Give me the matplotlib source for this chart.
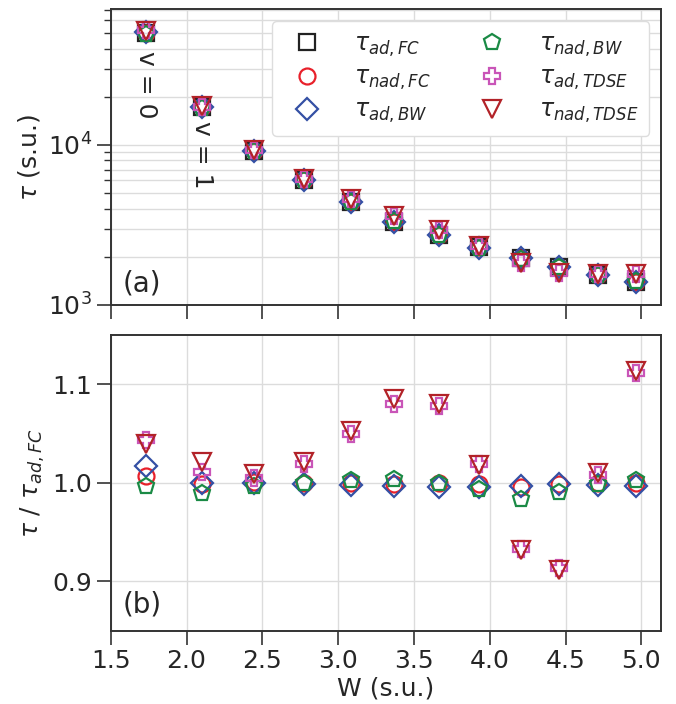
import numpy as np
import matplotlib.pyplot as plt

# well depth W and reference lifetime tau_ad,FC
W = [1.733, 2.103, 2.445, 2.775, 3.083, 3.37, 3.662, 3.93, 4.206, 4.459, 4.712, 4.966]
tau_ad_FC = [49900, 17200, 9210, 6040, 4385, 3320, 2740, 2296, 1960, 1738, 1540, 1400]

# ratios tau / tau_ad,FC
r_nad_FC = [1.007, 0.999, 1.001, 1.000, 1.000, 0.999, 1.000, 0.999, 0.996, 0.999, 1.000, 1.000]
r_ad_BW = [1.017, 1.000, 1.000, 0.999, 0.998, 0.997, 0.996, 0.996, 0.997, 0.999, 0.998, 0.997]
r_nad_BW = [0.997, 0.990, 0.997, 1.000, 1.003, 1.004, 1.000, 0.994, 0.984, 0.991, 0.999, 1.003]
r_ad_TDSE = [1.043, 1.011, 1.005, 1.019, 1.050, 1.080, 1.078, 1.019, 0.933, 0.914, 1.008, 1.111]
r_nad_TDSE = [1.039, 1.021, 1.009, 1.021, 1.053, 1.085, 1.080, 1.018, 0.932, 0.912, 1.010, 1.114]

labels = [r'$\tau_{ad,FC}$', r'$\tau_{nad,FC}$', r'$\tau_{ad,BW}$',
          r'$\tau_{nad,BW}$', r'$\tau_{ad,TDSE}$', r'$\tau_{nad,TDSE}$']
markers = ['s', 'o', 'D', 'p', 'P', 'v']
colors = ['#222222', '#e8202a', '#3450a4', '#1a8a45', '#c955b8', '#b22228']
sizes = [11.5, 11.5, 11.5, 12, 12, 12.5]

ratios = [np.ones(len(W)), np.array(r_nad_FC), np.array(r_ad_BW),
          np.array(r_nad_BW), np.array(r_ad_TDSE), np.array(r_nad_TDSE)]
taus = [np.array(tau_ad_FC) * r for r in ratios]

plt.rcParams['font.size'] = 18
plt.rcParams['text.color'] = '#262626'
plt.rcParams['axes.labelcolor'] = '#262626'
plt.rcParams['xtick.labelcolor'] = '#262626'
plt.rcParams['ytick.labelcolor'] = '#262626'
plt.rcParams['axes.edgecolor'] = '#333333'
plt.rcParams['axes.linewidth'] = 1.4

fig = plt.figure(figsize=(6.76, 7.04), dpi=100)
ax1 = fig.add_axes([0.1638, 0.5668, 0.8142, 0.42])
ax2 = fig.add_axes([0.1638, 0.1041, 0.8142, 0.42])

for i in range(6):
    kw = dict(ls='none', marker=markers[i], ms=sizes[i], mfc='none',
              mec=colors[i], mew=1.6, label=labels[i])
    ax1.plot(W, taus[i], **kw)
    if i > 0:
        ax2.plot(W, ratios[i], **kw)

ax1.set_yscale('log')
ax1.set_ylim(1000, 7.05e4)
ax2.set_ylim(0.85, 1.15)
for ax in (ax1, ax2):
    ax.set_xlim(1.5, 5.13)
    ax.set_xticks(np.arange(1.5, 5.01, 0.5))
    ax.grid(True, which='major', color='#dcdcdc', lw=1)
    ax.tick_params(which='major', direction='out', length=10, width=1.2,
                   color='#333333', labelsize=18)
    ax.tick_params(which='minor', direction='out', length=5, width=1.0,
                   color='#333333')
    ax.set_axisbelow(True)
ax1.grid(True, which='minor', axis='y', color='#dcdcdc', lw=1)
ax1.tick_params(axis='x', labelbottom=False)
ax2.set_yticks([0.9, 1.0, 1.1])

ax1.set_ylabel(r'$\tau$ (s.u.)', fontsize=18)
ax2.set_ylabel(r'$\tau$ / $\tau_{ad,FC}$', fontsize=18)
ax2.set_xlabel('W (s.u.)', fontsize=18, labelpad=2)
fig.align_ylabels([ax1, ax2])

ax1.text(W[0], 2.37e4, 'v = 0', rotation=-90, ha='center', va='center', fontsize=18)
ax1.text(W[1], 8.66e3, 'v = 1', rotation=-90, ha='center', va='center', fontsize=18)
ax1.text(0.022, 0.045, '(a)', transform=ax1.transAxes, fontsize=20, va='baseline')
ax2.text(0.022, 0.06, '(b)', transform=ax2.transAxes, fontsize=20, va='baseline')

ax1.legend(loc='upper right', ncol=2, fontsize=17, frameon=True, fancybox=True,
           edgecolor='#dddddd', framealpha=1, handletextpad=1.0, columnspacing=1.6,
           labelspacing=0.25, borderpad=0.45)

fig.savefig('out.png', dpi=100)
